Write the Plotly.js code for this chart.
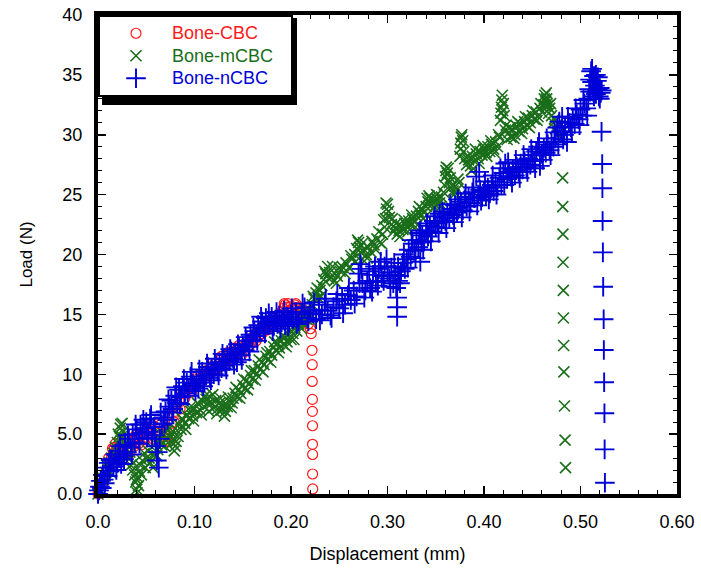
<!DOCTYPE html>
<html>
<head>
<meta charset="utf-8">
<script src="https://cdn.plot.ly/plotly-3.0.1.min.js"></script>
<style>
html,body{margin:0;padding:0;background:#fff;}
#chart{width:701px;height:573px;}
</style>
</head>
<body>
<div id="chart"></div>
<script>
// ---- Data ----
const seriesNames = ['Bone-CBC', 'Bone-mCBC', 'Bone-nCBC'];

// Bone-CBC: [displacement (mm), load (N)]
const cbcPoints = [
[0,0],[0.002,0.3],[0.004,0.7],[0.006,1.2],[0.008,1.6],[0.010,2.1],[0.012,2.6],[0.014,3.0],[0.016,3.4],[0.017,3.9],
[0.018,4.2],[0.019,3.6],[0.020,3.2],[0.022,2.9],[0.024,3.4],[0.026,3.8],[0.028,3.3],[0.030,3.9],[0.032,4.3],[0.034,3.8],
[0.036,4.4],[0.038,4.0],[0.040,4.6],[0.042,4.2],[0.044,4.9],[0.046,4.5],[0.048,5.1],[0.050,4.7],[0.053,5.3],[0.056,5.0],
[0.059,5.6],[0.062,5.2],[0.065,5.8],[0.068,4.8],[0.070,4.4],[0.072,4.9],[0.074,5.3],[0.076,5.9],[0.078,6.5],[0.080,6.9],
[0.082,7.4],[0.084,7.8],[0.086,8.0],[0.088,8.4],[0.090,8.0],[0.092,8.6],[0.094,8.9],[0.096,9.2],[0.098,8.8],[0.100,9.1],
[0.103,9.6],[0.106,9.3],[0.109,9.9],[0.112,10.3],[0.115,10.0],[0.118,10.6],[0.121,10.9],[0.124,10.5],[0.127,11.2],[0.130,11.0],
[0.133,11.6],[0.136,11.3],[0.139,11.9],[0.142,12.2],[0.145,11.8],[0.147,12.1],[0.149,11.6],[0.151,12.3],[0.154,12.7],[0.157,12.4],
[0.160,13.0],[0.163,13.4],[0.166,13.1],[0.169,13.8],[0.172,14.1],[0.175,13.7],[0.178,14.4],[0.181,14.7],[0.184,14.3],[0.187,14.9],
[0.190,15.2],[0.192,15.5],[0.194,15.8],[0.196,15.6],[0.198,15.3],[0.200,15.7],[0.202,15.5],[0.204,15.8],[0.206,15.4],[0.208,15.6],
[0.210,15.2],[0.212,15.0],[0.214,14.8],[0.216,14.6],[0.218,14.2],[0.220,13.8],[0.221,13.4],
[0.011,3.0],[0.015,3.8],[0.021,3.9],[0.027,4.3],[0.033,3.4],[0.039,4.9],[0.045,4.1],[0.051,5.5],[0.057,4.6],[0.063,5.9],
[0.069,5.0],[0.073,4.4],[0.079,6.0],[0.085,7.1],[0.091,8.5],[0.097,8.5],[0.104,9.9],[0.110,9.6],[0.116,10.5],[0.122,10.4],
[0.128,11.5],[0.134,11.8],[0.140,11.5],[0.146,12.4],[0.152,11.9],[0.158,13.0],[0.164,12.8],[0.170,13.4],[0.176,14.3],[0.182,14.0],
[0.188,15.0],[0.193,15.9],[0.197,15.9],[0.201,15.4],[0.205,15.9],[0.209,15.3],[0.213,15.4],[0.217,14.9],
[0.2218,12.0],[0.2220,10.8],[0.2220,9.4],[0.2222,7.9],[0.2222,6.9],[0.2223,5.7],[0.2223,4.15],[0.2224,3.3],[0.2224,1.67],[0.2225,0.42]
];

// Bone-mCBC
const mcbcPoints = [
[0,0],[0.002,0.4],[0.004,0.9],[0.006,1.3],[0.008,1.8],[0.010,2.1],[0.012,2.6],[0.014,3.0],[0.016,3.4],[0.018,3.9],
[0.020,4.3],[0.022,4.8],[0.023,5.5],[0.024,4.5],[0.025,5.9],[0.026,5.2],[0.027,4.4],[0.028,3.8],[0.030,3.2],[0.032,2.9],
[0.034,2.4],[0.036,2.0],[0.038,1.6],[0.039,1.0],[0.040,0.4],[0.041,1.4],[0.042,0.7],[0.043,1.9],[0.044,2.4],[0.046,2.8],
[0.048,3.4],[0.050,3.0],[0.052,3.6],[0.054,2.6],[0.056,3.9],[0.058,3.2],[0.060,4.2],[0.062,3.7],[0.064,4.6],[0.066,4.1],
[0.068,5.0],[0.070,4.5],[0.072,5.3],[0.074,4.8],[0.076,5.1],[0.078,4.6],[0.080,4.0],[0.081,4.4],[0.082,5.3],[0.084,5.8],
[0.086,5.4],[0.088,6.2],[0.090,5.9],[0.092,6.6],[0.094,6.3],[0.096,6.9],[0.098,6.5],[0.100,7.1],[0.102,6.8],[0.104,7.5],
[0.106,7.0],[0.108,7.8],[0.110,7.3],[0.112,7.9],[0.114,7.5],[0.116,8.1],[0.118,7.6],[0.120,7.2],[0.122,7.8],[0.124,7.1],
[0.126,7.6],[0.128,7.0],[0.130,7.4],[0.132,6.9],[0.134,7.3],[0.136,7.7],[0.138,7.2],[0.140,8.0],[0.142,8.4],[0.144,8.1],
[0.146,8.7],[0.148,8.4],[0.150,9.1],[0.152,8.8],[0.154,9.5],[0.156,9.2],[0.158,9.9],[0.160,9.6],[0.162,10.3],[0.164,10.0],
[0.166,10.7],[0.168,10.4],[0.170,11.0],[0.172,10.8],[0.174,11.5],[0.176,11.2],[0.178,11.9],[0.180,11.6],[0.182,12.3],[0.184,12.0],
[0.186,12.6],[0.188,12.2],[0.190,12.8],[0.192,12.5],[0.194,13.1],[0.196,12.7],[0.198,13.3],[0.200,12.9],[0.202,13.4],[0.204,13.9],
[0.206,13.6],[0.208,14.2],[0.210,14.6],[0.212,14.3],[0.214,14.9],[0.216,14.6],[0.218,15.3],[0.220,15.0],[0.222,15.8],[0.224,16.3],
[0.226,16.8],[0.228,16.4],[0.230,17.0],[0.232,17.4],[0.234,17.9],[0.236,18.4],[0.238,19.0],[0.240,18.5],[0.242,18.1],[0.245,17.8],
[0.248,18.2],[0.251,18.6],[0.254,18.9],[0.257,19.3],[0.260,18.9],[0.263,19.6],[0.266,20.0],[0.268,20.5],[0.270,21.0],[0.272,20.2],
[0.274,19.6],[0.276,20.4],[0.278,20.0],[0.280,20.6],[0.283,20.2],[0.286,20.8],[0.289,21.3],[0.292,21.0],[0.295,21.7],[0.297,22.3],
[0.298,23.0],[0.299,23.8],[0.300,24.2],[0.302,23.1],[0.304,22.5],[0.306,21.9],[0.308,22.2],[0.310,21.7],[0.312,22.0],[0.314,22.4],
[0.316,22.1],[0.318,22.6],[0.320,22.3],[0.322,22.8],[0.324,22.5],[0.326,23.0],[0.328,22.7],[0.330,23.2],[0.332,23.6],[0.334,23.3],
[0.336,23.8],[0.338,23.5],[0.340,24.0],[0.342,24.4],[0.344,24.7],[0.346,24.2],[0.348,24.5],[0.350,24.1],[0.352,24.6],[0.354,24.3],
[0.356,24.8],[0.358,25.2],[0.360,26.5],[0.361,27.3],[0.362,26.8],[0.364,26.0],[0.366,25.6],[0.368,25.3],[0.370,25.7],[0.372,25.4],
[0.374,26.0],[0.375,28.2],[0.376,29.3],[0.377,30.0],[0.378,29.5],[0.380,28.0],[0.382,27.5],[0.384,27.9],[0.386,27.4],[0.388,28.2],
[0.390,27.8],[0.392,28.4],[0.394,28.0],[0.396,28.6],[0.398,28.3],[0.400,28.8],[0.402,28.5],[0.404,29.0],[0.406,28.6],[0.408,29.2],
[0.410,28.8],[0.412,29.4],[0.414,29.0],[0.416,29.8],[0.417,31.2],[0.418,32.3],[0.419,33.3],[0.420,32.6],[0.421,31.6],[0.422,30.4],
[0.424,29.6],[0.426,30.2],[0.428,29.8],[0.430,30.4],[0.432,30.0],[0.434,30.7],[0.436,30.3],[0.438,30.9],[0.440,30.5],[0.442,31.1],
[0.444,30.8],[0.446,31.4],[0.448,31.0],[0.450,31.6],[0.452,31.3],[0.454,31.9],[0.456,31.5],[0.458,32.2],[0.460,31.9],[0.462,32.5],
[0.463,33.3],[0.464,32.8],[0.465,33.0],[0.466,32.4],[0.467,31.8],[0.468,32.2],[0.470,31.6],[0.472,31.0],[0.474,30.5],[0.476,30.9],
[0.478,30.2],[0.480,29.7],
[0.005,1.2],[0.009,2.4],[0.013,1.8],[0.017,3.1],[0.021,5.0],[0.0235,5.8],[0.0245,4.8],[0.029,4.6],[0.033,3.5],[0.037,2.6],
[0.040,1.2],[0.0405,0.1],[0.045,1.6],[0.049,2.2],[0.053,3.0],[0.057,2.2],[0.061,3.2],[0.065,5.0],[0.069,4.0],[0.073,5.6],
[0.077,4.3],[0.079,3.6],[0.083,4.8],[0.087,6.3],[0.091,5.4],[0.095,7.2],[0.099,6.1],[0.103,7.6],[0.107,6.6],[0.111,8.2],
[0.115,6.9],[0.119,8.3],[0.123,6.7],[0.127,8.0],[0.131,6.5],[0.135,8.1],[0.139,7.6],[0.143,8.9],[0.147,8.0],[0.151,9.6],
[0.155,8.7],[0.159,10.3],[0.163,9.5],[0.167,11.2],[0.171,10.2],[0.175,11.8],[0.179,11.0],[0.183,12.7],[0.187,11.8],[0.191,13.2],
[0.195,12.3],[0.199,13.7],[0.203,12.9],[0.207,14.5],[0.211,13.8],[0.215,15.4],[0.219,14.6],[0.223,16.5],[0.227,17.2],[0.231,16.5],
[0.235,18.6],[0.239,18.0],[0.243,19.0],[0.247,17.6],[0.250,18.9],[0.256,18.4],[0.262,19.9],[0.267,19.4],[0.269,21.2],[0.271,20.6],
[0.275,21.0],[0.279,19.7],[0.284,21.1],[0.288,20.4],[0.291,21.9],[0.294,20.9],[0.296,22.9],[0.2985,24.3],[0.301,23.6],[0.305,23.0],
[0.309,22.6],[0.313,21.5],[0.317,22.9],[0.321,21.9],[0.325,23.3],[0.329,22.3],[0.333,24.0],[0.337,23.0],[0.341,24.7],[0.343,24.9],
[0.347,23.8],[0.351,25.0],[0.355,24.0],[0.359,25.8],[0.3605,27.0],[0.363,27.2],[0.365,26.4],[0.369,25.0],[0.373,26.3],[0.3755,28.8],
[0.3765,29.8],[0.379,28.6],[0.383,28.2],[0.387,27.0],[0.391,28.8],[0.395,27.6],[0.399,29.1],[0.403,28.2],[0.407,29.5],[0.411,28.5],
[0.415,30.0],[0.4175,31.8],[0.4185,32.9],[0.4195,32.0],[0.423,30.8],[0.427,30.6],[0.431,29.7],[0.435,31.1],[0.439,30.1],[0.443,31.5],
[0.447,30.6],[0.451,32.0],[0.455,31.2],[0.459,32.6],[0.4625,33.0],[0.4635,32.4],[0.4645,33.5],[0.4655,32.6],[0.469,32.6],[0.473,31.3],
[0.477,30.1],[0.479,30.8],
[0.4815,26.4],[0.4816,24.0],[0.4818,21.7],[0.4819,19.35],[0.4822,17.0],[0.4823,14.7],[0.4826,12.4],[0.4828,10.2],[0.4834,7.35],[0.4840,4.5],[0.4845,2.2]
];

// Bone-nCBC
const ncbcPoints = [
[0,0],[0.001,0.3],[0.002,0.6],[0.003,1.1],[0.004,0.5],[0.005,1.6],[0.006,1.2],[0.008,2.2],[0.010,1.5],[0.011,2.6],
[0.012,1.9],[0.014,2.8],[0.016,2.3],[0.018,3.3],[0.020,2.6],[0.021,3.6],[0.022,3.0],[0.024,2.5],[0.026,3.2],[0.028,4.1],
[0.030,3.5],[0.032,4.6],[0.034,3.9],[0.036,5.0],[0.038,4.3],[0.040,5.4],[0.042,4.6],[0.044,5.8],[0.046,5.1],[0.048,5.5],
[0.050,6.0],[0.052,5.2],[0.054,6.3],[0.056,4.6],[0.058,5.6],[0.060,4.0],[0.061,2.8],[0.062,3.5],[0.063,2.2],[0.064,4.6],
[0.066,5.8],[0.068,6.4],[0.070,6.9],[0.072,6.2],[0.074,7.3],[0.076,7.8],[0.078,7.1],[0.080,8.2],[0.082,7.6],[0.084,8.7],
[0.086,8.1],[0.088,9.0],[0.090,8.4],[0.092,9.3],[0.094,8.8],[0.096,9.8],[0.098,9.2],[0.100,9.0],[0.102,9.6],[0.104,8.8],
[0.106,9.5],[0.108,10.2],[0.110,9.3],[0.112,9.9],[0.114,10.6],[0.116,9.7],[0.118,10.4],[0.120,10.0],[0.122,10.8],[0.124,10.3],
[0.126,11.0],[0.128,10.5],[0.130,11.3],[0.132,10.7],[0.134,11.6],[0.136,11.1],[0.138,11.9],[0.140,11.3],[0.142,11.7],[0.144,11.0],
[0.146,12.2],[0.148,11.6],[0.150,12.4],[0.152,12.0],[0.154,12.8],[0.156,12.3],[0.158,13.3],[0.160,12.9],[0.162,13.6],[0.164,13.2],
[0.166,14.1],[0.168,13.5],[0.170,14.4],[0.172,13.8],[0.174,14.7],[0.176,14.1],[0.178,14.3],[0.180,14.8],[0.182,14.0],[0.184,14.5],
[0.186,14.2],[0.188,14.9],[0.190,14.4],[0.192,14.6],[0.194,14.1],[0.196,14.8],[0.198,14.3],[0.200,15.0],[0.202,14.6],[0.205,15.2],
[0.208,14.4],[0.211,15.0],[0.214,15.6],[0.217,14.7],[0.220,15.3],[0.223,15.1],[0.226,14.6],[0.229,15.4],[0.232,15.0],[0.235,15.8],
[0.238,15.3],[0.241,14.9],[0.244,15.6],[0.247,16.1],[0.250,15.5],[0.253,16.3],[0.256,15.8],[0.259,16.6],[0.262,16.2],[0.265,17.0],
[0.268,16.5],[0.270,18.4],[0.272,19.2],[0.274,17.6],[0.276,16.4],[0.279,17.8],[0.282,17.2],[0.285,18.3],[0.288,17.7],[0.291,18.8],
[0.294,18.2],[0.297,19.0],[0.300,18.5],[0.302,18.0],[0.304,18.9],[0.306,17.6],[0.308,18.3],[0.309,17.2],[0.310,16.4],[0.310,15.6],
[0.310,14.8],[0.311,17.8],[0.311,19.0],[0.312,18.2],[0.314,18.6],[0.316,19.3],[0.318,18.8],[0.320,19.6],[0.322,20.4],[0.324,19.8],
[0.326,20.9],[0.328,20.3],[0.330,21.2],[0.332,20.6],[0.334,22.0],[0.334,19.4],[0.335,21.0],[0.336,21.6],[0.338,21.1],[0.340,22.0],
[0.342,21.5],[0.344,22.4],[0.346,21.9],[0.348,22.8],[0.350,22.3],[0.352,22.6],[0.354,23.4],[0.356,22.7],[0.358,23.1],[0.360,22.8],
[0.362,23.5],[0.364,23.0],[0.366,23.8],[0.368,23.3],[0.370,24.1],[0.372,23.5],[0.374,23.9],[0.376,24.4],[0.378,23.7],[0.380,24.6],
[0.382,24.0],[0.384,24.8],[0.386,24.3],[0.388,25.2],[0.390,24.7],[0.392,26.5],[0.394,25.0],[0.396,25.4],[0.398,24.8],[0.400,25.3],
[0.402,24.9],[0.404,25.6],[0.406,25.1],[0.408,25.8],[0.410,25.3],[0.412,26.1],[0.414,25.6],[0.416,26.4],[0.418,25.8],[0.420,26.8],
[0.422,27.6],[0.424,26.3],[0.426,26.9],[0.428,26.5],[0.430,27.1],[0.432,26.6],[0.434,27.3],[0.436,26.9],[0.438,27.6],[0.440,27.1],
[0.442,27.8],[0.444,27.3],[0.446,28.0],[0.448,27.5],[0.450,28.3],[0.452,27.8],[0.454,28.6],[0.456,29.0],[0.458,27.4],[0.460,28.4],
[0.462,28.9],[0.464,28.5],[0.466,29.2],[0.468,28.7],[0.470,29.4],[0.472,29.0],[0.474,29.7],[0.476,30.6],[0.478,31.1],[0.480,30.3],
[0.482,29.6],[0.484,30.7],[0.486,29.4],[0.488,31.0],[0.490,30.6],[0.492,31.4],[0.494,30.9],[0.496,31.7],[0.498,31.3],[0.500,32.1],
[0.502,31.6],[0.504,32.6],[0.506,32.2],[0.508,33.0],[0.509,33.8],[0.510,34.6],[0.511,35.3],[0.512,34.4],[0.513,33.6],[0.514,34.9],
[0.515,34.1],[0.516,33.4],[0.517,34.5],[0.518,33.8],[0.519,33.2],[0.520,33.9],[0.521,33.5],[0.522,33.7],
[0.007,0.9],[0.013,2.9],[0.019,2.0],[0.023,4.0],[0.027,2.9],[0.031,4.9],[0.035,3.3],[0.039,5.8],[0.043,4.2],[0.047,6.2],
[0.051,4.7],[0.055,6.6],[0.059,4.9],[0.065,6.8],[0.069,5.9],[0.073,7.9],[0.077,6.8],[0.081,8.9],[0.085,7.5],[0.089,9.6],
[0.093,8.2],[0.097,10.2],[0.101,8.6],[0.105,10.4],[0.109,9.0],[0.113,10.9],[0.117,9.5],[0.121,11.3],[0.125,9.9],[0.129,11.7],
[0.133,10.4],[0.137,12.1],[0.141,10.8],[0.145,12.5],[0.149,11.2],[0.153,13.1],[0.157,11.9],[0.161,13.9],[0.165,12.8],[0.169,14.8],
[0.173,13.4],[0.177,15.1],[0.181,13.6],[0.185,15.2],[0.189,13.8],[0.193,15.3],[0.197,14.0],[0.201,15.5],[0.206,14.2],[0.212,15.9],
[0.218,14.4],[0.224,16.0],[0.230,14.5],[0.236,16.3],[0.242,14.7],[0.248,16.7],[0.254,15.1],[0.260,17.2],[0.266,15.9],[0.271,17.6],
[0.273,18.8],[0.277,17.0],[0.281,18.6],[0.284,16.9],[0.287,19.0],[0.290,17.4],[0.293,19.4],[0.296,17.8],[0.299,19.6],[0.303,17.3],
[0.307,19.3],[0.313,17.6],[0.317,20.0],[0.321,18.9],[0.325,21.2],[0.329,19.7],[0.333,21.8],[0.337,20.4],[0.341,22.6],[0.345,21.1],
[0.349,23.2],[0.353,21.8],[0.357,23.6],[0.361,22.2],[0.365,24.2],[0.369,22.7],[0.373,24.6],[0.377,23.1],[0.381,25.1],[0.385,23.6],
[0.389,25.6],[0.393,24.1],[0.395,26.9],[0.397,24.5],[0.401,26.1],[0.405,24.6],[0.409,26.6],[0.413,25.0],[0.417,27.2],[0.421,25.8],
[0.425,27.7],[0.429,26.0],[0.433,27.9],[0.437,26.4],[0.441,28.3],[0.445,26.9],[0.449,28.8],[0.453,27.2],[0.457,29.4],[0.461,27.9],
[0.465,29.7],[0.469,28.3],[0.473,30.2],[0.477,29.2],[0.481,31.5],[0.483,30.0],[0.487,31.5],[0.491,30.2],[0.495,32.2],[0.499,30.8],
[0.503,32.9],[0.507,31.6],[0.510,33.6],[0.512,35.5],[0.514,33.2],[0.516,35.0],[0.518,34.8],[0.520,33.0],
[0.5218,30.25],[0.5225,27.56],[0.5227,25.53],[0.5229,22.8],[0.5232,20.18],[0.5235,17.31],[0.5240,14.59],[0.5242,12.03],[0.5245,9.33],[0.5248,6.74],[0.5250,3.73],[0.5253,0.94]
];

const xTickVals = [0, 0.1, 0.2, 0.3, 0.4, 0.5, 0.6];
const xTickText = ['0.0', '0.10', '0.20', '0.30', '0.40', '0.50', '0.60'];
const yTickVals = [0, 5, 10, 15, 20, 25, 30, 35, 40];
const yTickText = ['0.0', '5.0', '10', '15', '20', '25', '30', '35', '40'];

// ---- Styles ----
const colors = ['#ff1a1a', '#1a6e1a', '#0000d8'];
const symbols = ['circle-open', 'x-thin-open', 'cross-thin-open'];
const sizes = [10, 11, 14];
const widths = [1.2, 1.6, 1.9];
const legendPad = ['', '\u00a0\u00a0\u00a0', ''];
const allPoints = [cbcPoints, mcbcPoints, ncbcPoints];
const FONT = 'Liberation Sans, Arial, sans-serif';

const traces = allPoints.map((pts, i) => ({
  type: 'scatter',
  mode: 'markers',
  x: pts.map(p => p[0]),
  y: pts.map(p => p[1]),
  name: '<span style="color:' + colors[i] + ';font-size:18px">' + seriesNames[i] + '</span>' + legendPad[i],
  cliponaxis: false,
  marker: {symbol: symbols[i], size: sizes[i], color: colors[i], line: {color: colors[i], width: widths[i]}}
}));

const axisCommon = {
  showgrid: false, zeroline: false,
  showline: true, linecolor: '#000', linewidth: 4, mirror: 'ticks',
  ticks: 'inside', ticklen: 8, tickwidth: 1.5, tickcolor: '#000',
  tickfont: {family: FONT, size: 18, color: '#000'}
};

const layout = {
  width: 701, height: 573,
  margin: {l: 98, r: 24, t: 15, b: 79},
  paper_bgcolor: '#fff', plot_bgcolor: '#fff',
  showlegend: true,
  xaxis: Object.assign({}, axisCommon, {
    range: [0, 0.6], tickvals: xTickVals, ticktext: xTickText,
    ticklabelstandoff: 8,
    minor: {dtick: 0.02, tick0: 0, ticks: 'inside', ticklen: 4, tickwidth: 1, tickcolor: '#000'},
    title: {text: 'Displacement (mm)', font: {family: FONT, size: 18, color: '#000'}, standoff: 18}
  }),
  yaxis: Object.assign({}, axisCommon, {
    range: [0, 40], tickvals: yTickVals, ticktext: yTickText,
    ticklabelstandoff: 8,
    minor: {dtick: 1, tick0: 0, ticks: 'inside', ticklen: 4, tickwidth: 1, tickcolor: '#000'},
    title: {text: 'Load (N)', font: {family: FONT, size: 17, color: '#000'}, standoff: 21}
  }),
  legend: {
    x: 0, y: 1, xanchor: 'left', yanchor: 'top',
    bgcolor: '#fff', bordercolor: '#000', borderwidth: 2,
    itemwidth: 62,
    font: {family: FONT, size: 15, color: '#000'}
  },
  shapes: [{
    type: 'rect', xref: 'paper', yref: 'paper', layer: 'above',
    x0: 0.007, x1: 0.3437, y0: 0.812, y1: 0.9937,
    fillcolor: '#000', line: {width: 0}
  }]
};

Plotly.newPlot('chart', traces, layout, {displayModeBar: false, staticPlot: true});
</script>
</body>
</html>
